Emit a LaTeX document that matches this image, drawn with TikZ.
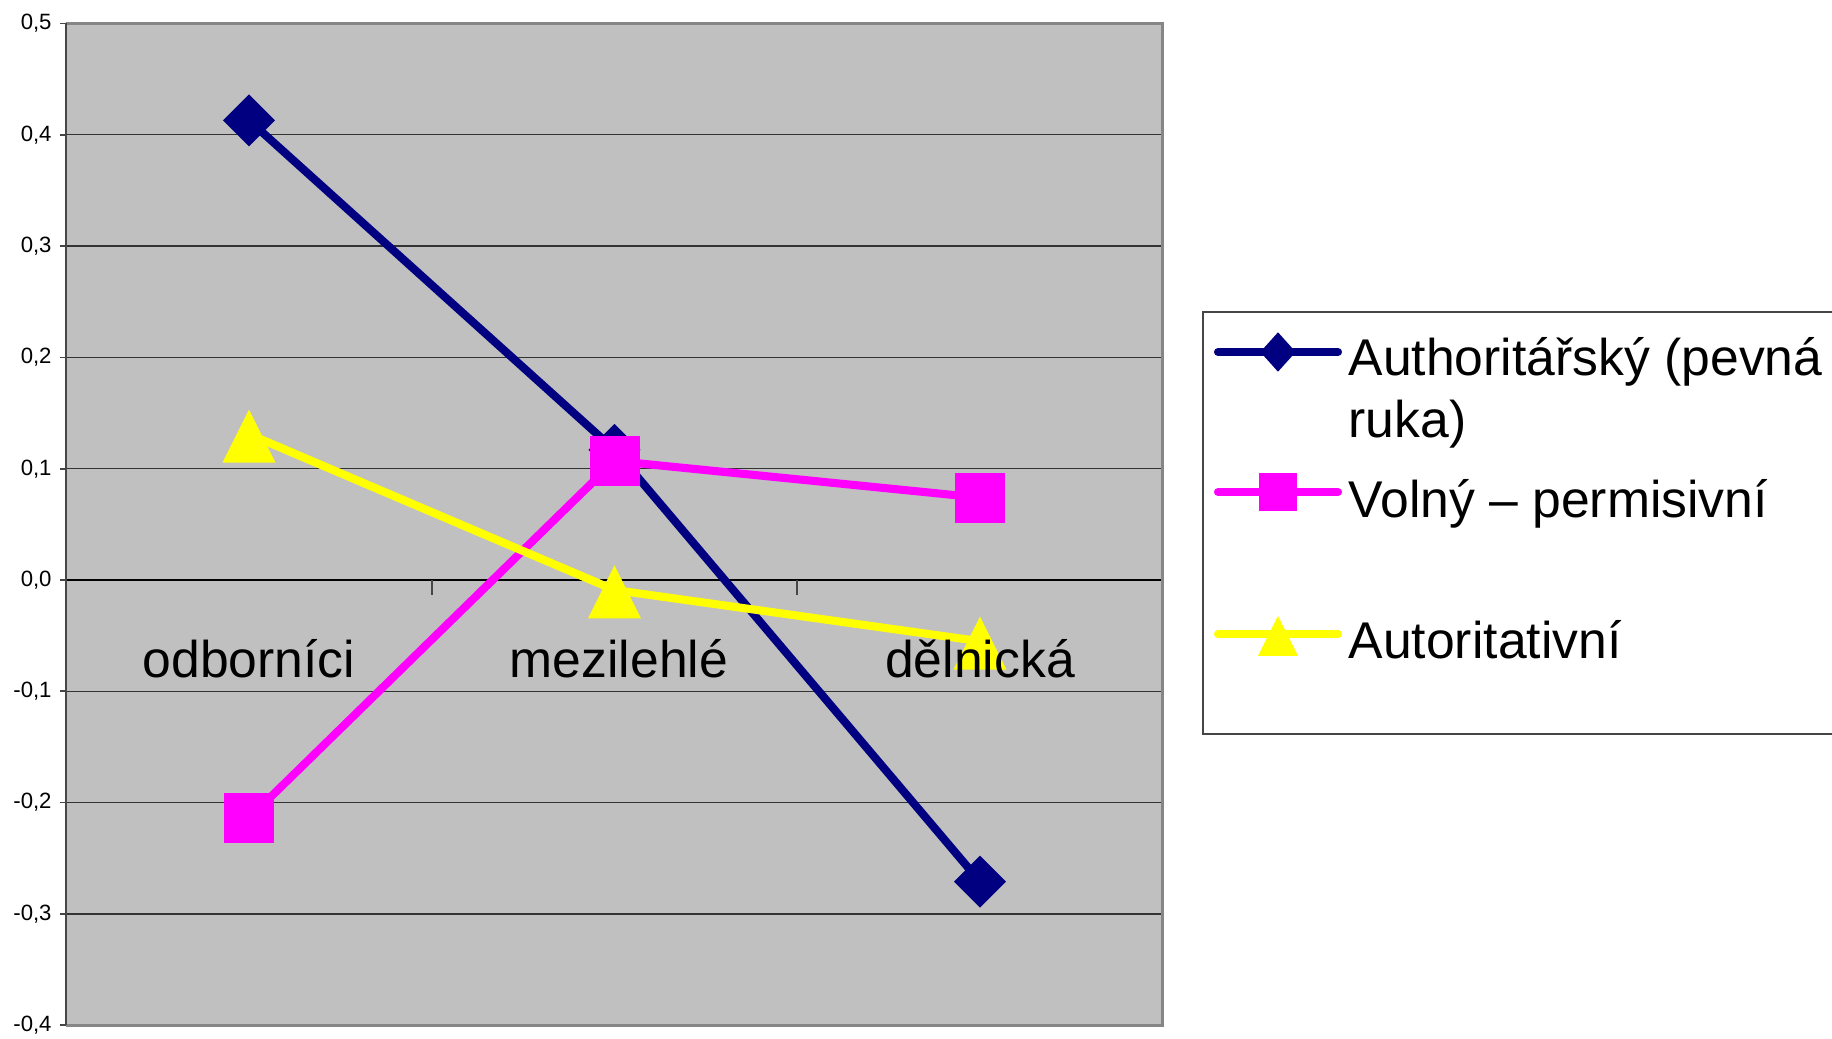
\documentclass[tikz,border=0pt]{standalone}
\usepackage{fontspec}
\setmainfont{Liberation Sans}
\usetikzlibrary{shapes.geometric}
\definecolor{plotgray}{RGB}{192,192,192}
\definecolor{framegray}{RGB}{134,134,134}
\definecolor{axisgray}{RGB}{70,70,70}
\definecolor{authblue}{RGB}{0,0,128}
\definecolor{volnypink}{RGB}{255,0,255}
\definecolor{autoryellow}{RGB}{255,255,0}

\begin{document}
\begin{tikzpicture}[
  serie/.style={line width=2.3pt, line cap=round, line join=round},
  diamark/.style={diamond, fill=authblue, inner sep=0pt, minimum width=5.26mm, minimum height=5.26mm},
  sqmark/.style={rectangle, fill=volnypink, inner sep=0pt, minimum size=5mm},
  trimark/.style={isosceles triangle, isosceles triangle stretches, shape border rotate=90,
    fill=autoryellow, inner sep=0pt, minimum width=5.3mm, minimum height=5.3mm, anchor=apex},
  gridline/.style={black!80, line width=0.35pt},
  catlabel/.style={font=\fontsize{14.7}{17.4}\selectfont, anchor=base, inner sep=0pt},
  ticklabel/.style={font=\fontsize{6.3}{7.5}\selectfont, anchor=east, inner sep=0pt},
  legtext/.style={font=\fontsize{14.7}{17.4}\selectfont, anchor=base west, inner sep=0pt, align=left}
]
\useasboundingbox (0,0) rectangle (18.32,10.38);

\begin{scope}[xshift=0.6625cm, yshift=4.58cm, x=3.655cm, y=11.13cm]
\fill[plotgray] (0,-0.4) rectangle (3,0.5);
\foreach \v in {-0.3,-0.2,-0.1,0.1,0.2,0.3,0.4}
  \draw[gridline] (0,\v) -- (3,\v);
\draw[black, line width=0.55pt] (0,0) -- (3,0);
\foreach \k in {1,2,3}
  \draw[axisgray, line width=0.5pt] (\k,0) -- ++(0,-1.5mm);
\draw[framegray, line width=0.85pt] (0,0.5) -- (3,0.5) -- (3,-0.4) -- (0,-0.4);
\draw[axisgray, line width=0.6pt] (0,0.5) -- (0,-0.4);
\foreach \v/\lab [count=\i] in {0.5/{0,5},0.4/{0,4},0.3/{0,3},0.2/{0,2},0.1/{0,1},0/{0,0},
    -0.1/{-0,1},-0.2/{-0,2},-0.3/{-0,3},-0.4/{-0,4}} {
  \draw[axisgray, line width=0.5pt] (0,\v) -- ++(-0.6mm,0);
  \node[ticklabel] (ylab\i) at ([xshift=-1.4mm]0,\v) {\lab};
}

\coordinate (auth1) at (0.5,0.413);
\coordinate (auth2) at (1.5,0.117);
\coordinate (auth3) at (2.5,-0.271);
\coordinate (voln1) at (0.5,-0.214);
\coordinate (voln2) at (1.5,0.107);
\coordinate (voln3) at (2.5,0.074);
\coordinate (auto1) at (0.5,0.131);
\coordinate (auto2) at (1.5,-0.009);
\coordinate (auto3) at (2.5,-0.055);

\draw[serie, authblue] (auth1) -- (auth2) -- (auth3);
\foreach \k in {1,2,3}
  \node[diamark] (authm\k) at (auth\k) {};
\draw[serie, volnypink] (voln1) -- (voln2) -- (voln3);
\foreach \k in {1,2,3}
  \node[sqmark] (volnm\k) at (voln\k) {};
\draw[serie, autoryellow] (auto1) -- (auto2) -- (auto3);
\foreach \k in {1,2,3}
  \node[trimark] (autom\k) at ([yshift=2.65mm]auto\k) {};

\node[catlabel] (cat1) at (0.5,-0.088) {odborníci};
\node[catlabel] (cat2) at ([xshift=0.45mm]1.5,-0.088) {mezilehlé};
\node[catlabel] (cat3) at (2.5,-0.088) {dělnická};
\end{scope}

\draw[axisgray, line width=0.45pt] (18.6,7.26) -- (12.03,7.26) -- (12.03,3.04) -- (18.6,3.04);
\coordinate (lgA1) at (12.18,6.86);
\coordinate (lgA2) at (13.38,6.86);
\coordinate (lgV1) at (12.18,5.46);
\coordinate (lgV2) at (13.38,5.46);
\coordinate (lgT1) at (12.18,4.04);
\coordinate (lgT2) at (13.38,4.04);
\draw[serie, authblue] (lgA1) -- (lgA2);
\node[diamark, minimum width=3.6mm, minimum height=4mm] (lgAm) at (12.78,6.86) {};
\draw[serie, volnypink] (lgV1) -- (lgV2);
\node[sqmark, minimum size=3.8mm] (lgVm) at (12.78,5.46) {};
\draw[serie, autoryellow] (lgT1) -- (lgT2);
\node[trimark, minimum width=4mm, minimum height=4mm] (lgTm) at (12.78,4.24) {};
\node[legtext] (lgAt) at (13.48,6.01) {Authoritářský (pevná\\ruka)};
\node[legtext] (lgVt) at (13.48,5.21) {Volný – permisivní};
\node[legtext] (lgTt) at (13.48,3.80) {Autoritativní};
\end{tikzpicture}
\end{document}
